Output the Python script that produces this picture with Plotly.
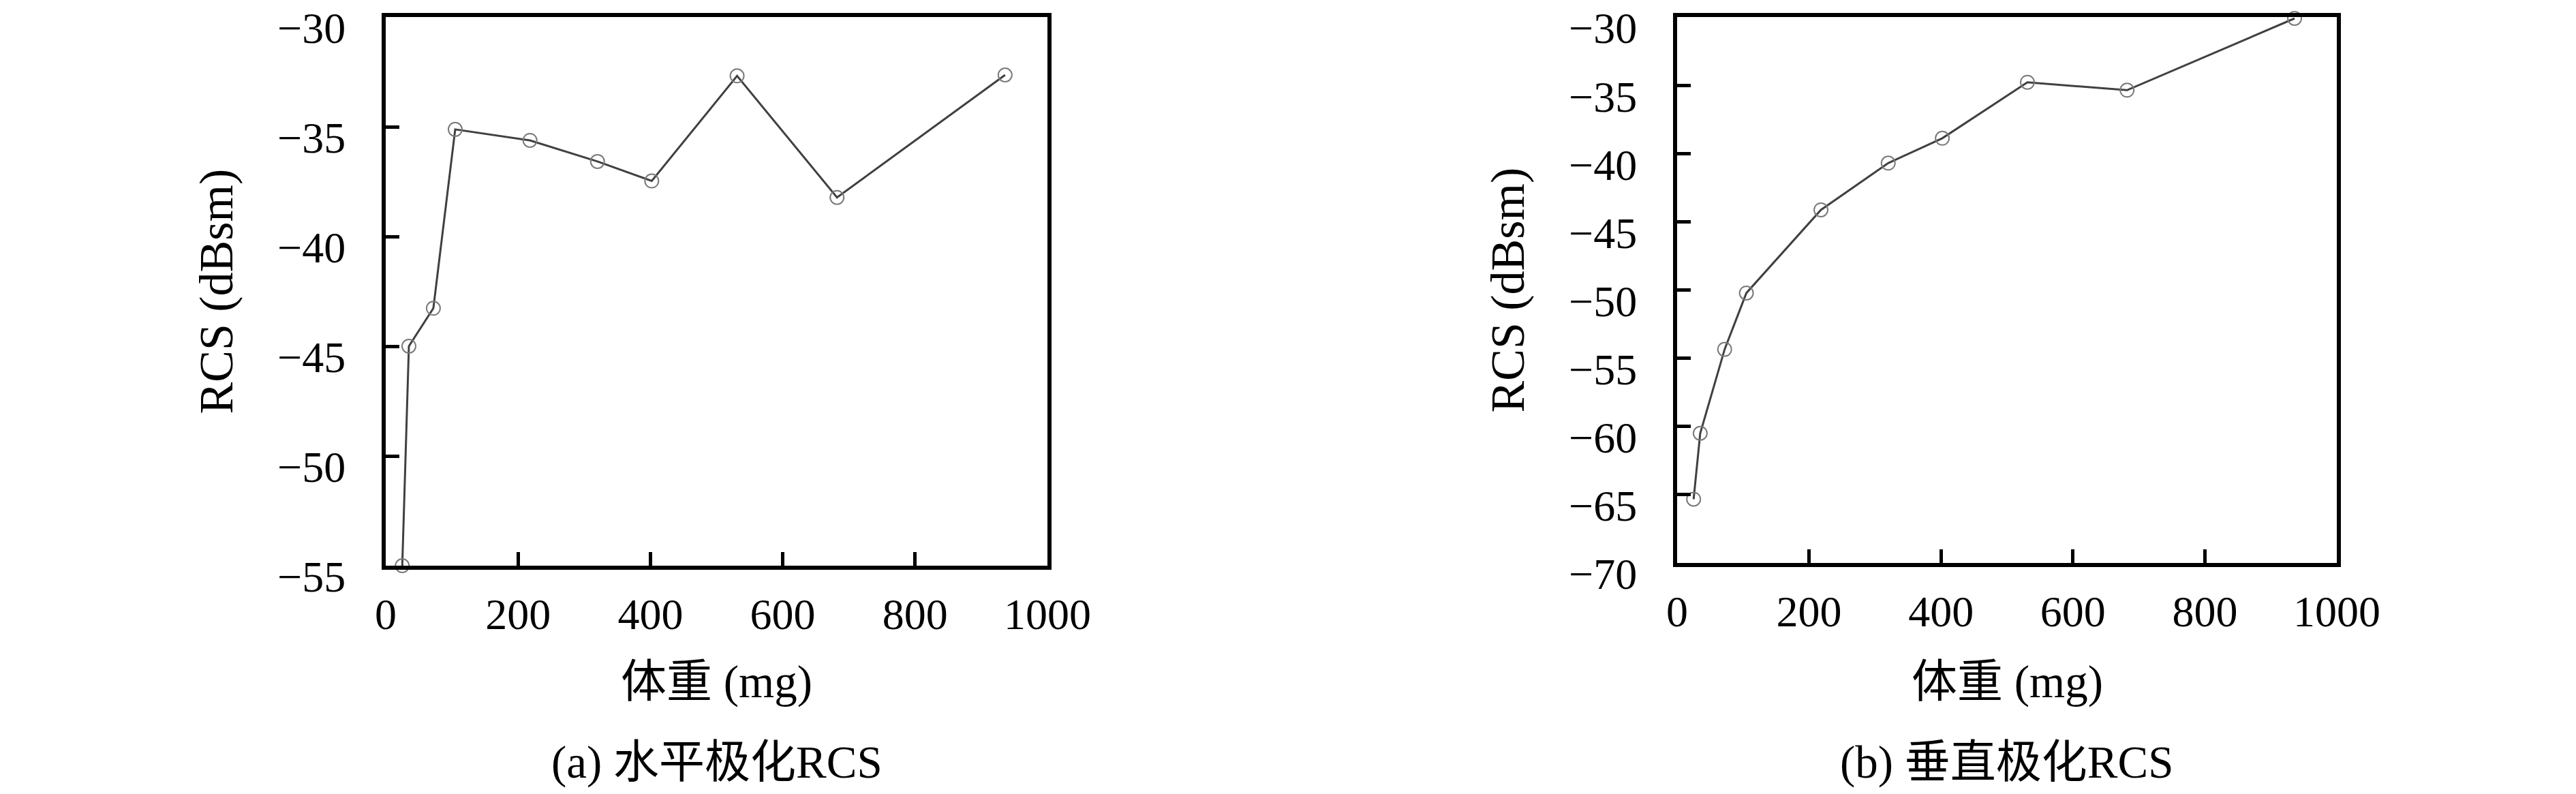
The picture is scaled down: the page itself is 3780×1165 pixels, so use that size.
import plotly.graph_objects as go

# Data
weight_mg = [25, 35, 72, 105, 218, 320, 402, 531, 682, 936]
rcs_h = [-55.0, -45.0, -43.27, -35.12, -35.62, -36.58, -37.47, -32.68, -38.22, -32.64]
rcs_v = [-65.33, -60.5, -54.35, -50.22, -44.13, -40.7, -38.88, -34.78, -35.36, -30.1]
x_ticks = [0, 200, 400, 600, 800, 1000]
y_ticks_h = [-55, -50, -45, -40, -35, -30]
y_ticks_v = [-70, -65, -60, -55, -50, -45, -40, -35, -30]
x_title = "体重 (mg)"
y_title = "RCS (dBsm)"
captions = ["(a) 水平极化RCS", "(b) 垂直极化RCS"]

W, H = 3780, 1165
FONT = "Liberation Serif, 'Noto Sans CJK SC', serif"
TICK_SIZE = 64
TITLE_SIZE = 67

line_style = dict(color="#404040", width=3)
marker_style = dict(symbol="circle-open", size=20, color="#7a7a7a", line=dict(width=2, color="#7a7a7a"))

fig = go.Figure()
fig.add_trace(go.Scatter(x=weight_mg, y=rcs_h, mode="lines+markers", line=line_style,
                         marker=marker_style, xaxis="x", yaxis="y", showlegend=False, cliponaxis=False))
fig.add_trace(go.Scatter(x=weight_mg, y=rcs_v, mode="lines+markers", line=line_style,
                         marker=marker_style, xaxis="x2", yaxis="y2", showlegend=False, cliponaxis=False))

# Panel pixel boxes
left_box = (558, 1529, 17, 822)
right_box = (2453, 3421, 17, 818)


def dom_x(b):
    return [b[0] / W, b[1] / W]


def dom_y(b):
    return [1 - b[3] / H, 1 - b[2] / H]


axis_common = dict(
    showline=True, linecolor="black", linewidth=6, mirror=True,
    ticks="inside", ticklen=20, tickwidth=5, tickcolor="black",
    showgrid=False, zeroline=False, ticklabeloverflow="allow", automargin=False,
    tickfont=dict(family=FONT, size=TICK_SIZE, color="black"),
)

fig.update_layout(
    width=W, height=H,
    margin=dict(l=0, r=0, t=0, b=0, autoexpand=False),
    paper_bgcolor="white", plot_bgcolor="white",
    font=dict(family=FONT, color="black"),
    xaxis=dict(domain=dom_x(left_box), anchor="y", range=[0, 1000], tickvals=x_ticks,
               ticklabelstandoff=10, **axis_common),
    yaxis=dict(domain=dom_y(left_box), anchor="x", range=[-55, -30], tickvals=y_ticks_h,
               ticklabelstandoff=40, ticklabelshift=16, **axis_common),
    xaxis2=dict(domain=dom_x(right_box), anchor="y2", range=[0, 1000], tickvals=x_ticks,
                ticklabelstandoff=10, **axis_common),
    yaxis2=dict(domain=dom_y(right_box), anchor="x2", range=[-70, -30], tickvals=y_ticks_v,
                ticklabelstandoff=40, ticklabelshift=16, **axis_common),
)

annos = []
for box, cap, ytx in [(left_box, captions[0], 309), (right_box, captions[1], 2204)]:
    cx = (box[0] + box[1]) / 2 / W
    annos.append(dict(text=x_title, x=cx, y=1 - 992 / H, xref="paper", yref="paper",
                      xanchor="center", yanchor="middle", showarrow=False,
                      font=dict(family=FONT, size=TITLE_SIZE, color="black")))
    annos.append(dict(text=cap, x=cx, y=1 - 1110 / H, xref="paper", yref="paper",
                      xanchor="center", yanchor="middle", showarrow=False,
                      font=dict(family=FONT, size=TITLE_SIZE, color="black")))
    annos.append(dict(text=y_title, x=ytx / W, y=1 - ((box[2] + box[3]) / 2) / H, xref="paper", yref="paper",
                      xanchor="center", yanchor="middle", showarrow=False, textangle=-90,
                      font=dict(family=FONT, size=TITLE_SIZE + 3, color="black")))
fig.update_layout(annotations=annos)

fig.write_html("out.html")
